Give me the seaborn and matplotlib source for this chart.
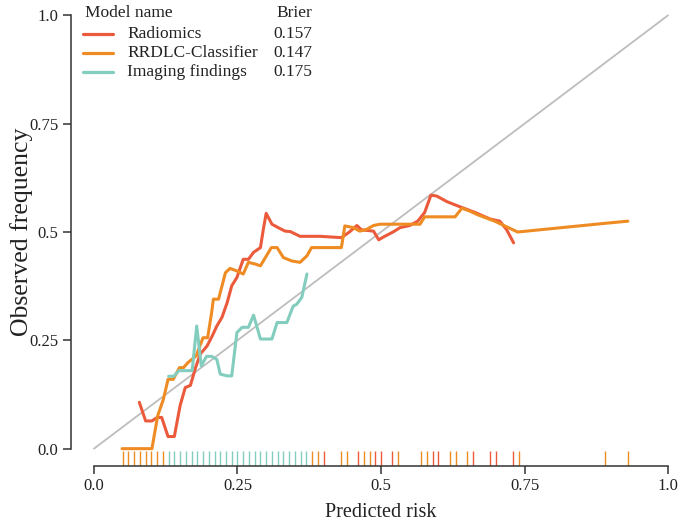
import matplotlib
matplotlib.use("Agg")
import matplotlib.pyplot as plt
from matplotlib.lines import Line2D
import seaborn as sns
import pandas as pd

# ---------------- data ----------------
models = ["Radiomics", "RRDLC-Classifier", "Imaging findings"]
brier = ["0.157", "0.147", "0.175"]

radiomics_x = [0.079, 0.090, 0.101, 0.110, 0.118, 0.129, 0.140, 0.150, 0.159, 0.168,
               0.177, 0.185, 0.197, 0.206, 0.214, 0.223, 0.232, 0.240, 0.249, 0.260,
               0.269, 0.278, 0.290, 0.295, 0.300, 0.310, 0.321, 0.333, 0.342, 0.359,
               0.394, 0.431, 0.445, 0.458, 0.466, 0.487, 0.496, 0.505, 0.521, 0.533,
               0.550, 0.564, 0.576, 0.587, 0.597, 0.615, 0.634, 0.664, 0.690, 0.707,
               0.719, 0.731]
radiomics_y = [0.107, 0.064, 0.064, 0.072, 0.072, 0.028, 0.028, 0.099, 0.141, 0.146,
               0.187, 0.218, 0.237, 0.260, 0.283, 0.303, 0.337, 0.376, 0.395, 0.437,
               0.437, 0.453, 0.464, 0.506, 0.543, 0.518, 0.510, 0.502, 0.501, 0.490,
               0.490, 0.487, 0.500, 0.515, 0.505, 0.502, 0.482, 0.489, 0.500, 0.510,
               0.515, 0.525, 0.545, 0.585, 0.583, 0.570, 0.560, 0.545, 0.530, 0.525,
               0.505, 0.475]

rrdlc_x = [0.049, 0.101, 0.111, 0.121, 0.129, 0.138, 0.149, 0.156, 0.164, 0.178,
           0.190, 0.198, 0.205, 0.208, 0.217, 0.229, 0.237, 0.249, 0.260, 0.269,
           0.281, 0.290, 0.309, 0.319, 0.330, 0.345, 0.359, 0.371, 0.379, 0.394,
           0.431, 0.437, 0.452, 0.463, 0.475, 0.487, 0.498, 0.568, 0.576, 0.629,
           0.641, 0.655, 0.668, 0.698, 0.738, 0.890, 0.930]
rrdlc_y = [0.000, 0.000, 0.076, 0.114, 0.160, 0.160, 0.187, 0.187, 0.199, 0.214,
           0.256, 0.256, 0.314, 0.345, 0.345, 0.406, 0.416, 0.410, 0.403, 0.430,
           0.426, 0.422, 0.464, 0.464, 0.441, 0.433, 0.430, 0.445, 0.464, 0.464,
           0.464, 0.514, 0.510, 0.502, 0.506, 0.515, 0.518, 0.518, 0.535, 0.535,
           0.555, 0.548, 0.540, 0.525, 0.500, 0.520, 0.525]

imaging_x = [0.130, 0.139, 0.148, 0.171, 0.179, 0.187, 0.196, 0.205, 0.214, 0.220,
             0.232, 0.240, 0.249, 0.258, 0.269, 0.278, 0.290, 0.310, 0.319, 0.336,
             0.347, 0.353, 0.362, 0.371]
imaging_y = [0.167, 0.167, 0.180, 0.180, 0.283, 0.191, 0.213, 0.213, 0.206, 0.172,
             0.168, 0.168, 0.268, 0.280, 0.280, 0.308, 0.253, 0.253, 0.291, 0.291,
             0.329, 0.333, 0.349, 0.403]

rug_orange = [0.05, 0.06, 0.07, 0.08, 0.09, 0.10, 0.11, 0.12, 0.38, 0.39, 0.43, 0.44,
              0.47, 0.48, 0.53, 0.57, 0.58, 0.62, 0.63, 0.65, 0.74, 0.89, 0.93]
rug_red = [0.40, 0.46, 0.49, 0.50, 0.52, 0.59, 0.60, 0.66, 0.69, 0.70, 0.73]
rug_teal = [0.13, 0.14, 0.15, 0.16, 0.17, 0.18, 0.19, 0.20, 0.21, 0.22, 0.23, 0.24,
            0.25, 0.26, 0.27, 0.28, 0.29, 0.30, 0.31, 0.32, 0.33, 0.34, 0.35, 0.36, 0.37]

ticks = [0.0, 0.25, 0.5, 0.75, 1.0]
tick_labels = ["0.0", "0.25", "0.5", "0.75", "1.0"]
diag = [0.0, 1.0]

colors = {"Radiomics": "#EC5A3C", "RRDLC-Classifier": "#EE8B22", "Imaging findings": "#82CDBE"}

# ---------------- plot ----------------
sns.set_style("white")
plt.rcParams["font.family"] = ["Liberation Serif", "DejaVu Serif"]

fig = plt.figure(figsize=(6.8, 5.23), dpi=100)
ax = fig.add_axes([71 / 680, 57 / 523, 620 / 680, 468 / 523])

sns.lineplot(x=diag, y=diag, color="#BDBDBD", lw=1.3, ax=ax, legend=False)

series = [
    ("Radiomics", radiomics_x, radiomics_y),
    ("RRDLC-Classifier", rrdlc_x, rrdlc_y),
    ("Imaging findings", imaging_x, imaging_y),
]
for name, xs, ys in series:
    df = pd.DataFrame({"x": xs, "y": ys})
    sns.lineplot(data=df, x="x", y="y", sort=False, estimator=None, color=colors[name],
                 lw=2.2, ax=ax, legend=False)

for vals, col in [(rug_orange, colors["RRDLC-Classifier"]),
                  (rug_red, colors["Radiomics"]),
                  (rug_teal, colors["Imaging findings"])]:
    sns.rugplot(x=vals, height=0.032, color=col, lw=1.1, ax=ax, expand_margins=False)

ax.set_xlim(-0.04, 1.04)
ax.set_ylim(-0.04, 1.04)
ax.set_xticks(ticks)
ax.set_xticklabels(tick_labels)
ax.set_yticks(ticks)
ax.set_yticklabels(tick_labels)
for s in ["top", "right"]:
    ax.spines[s].set_visible(False)
for s in ["left", "bottom"]:
    ax.spines[s].set_color("#333333")
    ax.spines[s].set_linewidth(1.1)
ax.spines["left"].set_bounds(0, 1)
ax.spines["bottom"].set_bounds(0, 1)
ax.tick_params(axis="both", which="major", direction="out", length=6, width=1.1,
               color="#333333", labelsize=12, labelcolor="#222222", pad=3,
               left=True, bottom=True)
ax.set_xlabel("Predicted risk", fontsize=14.5, color="#222222", labelpad=6)
ax.set_ylabel("Observed frequency", fontsize=18.5, color="#222222", labelpad=-3)
ax.set_facecolor("white")

# legend as a small table
fs = 12.5
fig.text(85 / 680, 1 - 13 / 523, "Model name", fontsize=fs, ha="left", va="center", color="#222222")
fig.text(276 / 680, 1 - 13 / 523, "Brier", fontsize=fs, ha="left", va="center", color="#222222")
rows_y = [34, 53, 72]
for name, b, yy in zip(models, brier, rows_y):
    fig.add_artist(Line2D([83 / 680, 113 / 680], [1 - yy / 523] * 2,
                          transform=fig.transFigure, color=colors[name], lw=2.3))
    fig.text(127 / 680, 1 - yy / 523, name, fontsize=fs, ha="left", va="center", color="#222222")
    fig.text(273 / 680, 1 - yy / 523, b, fontsize=fs, ha="left", va="center", color="#222222")

fig.savefig("out.png", dpi=100, facecolor="white")
